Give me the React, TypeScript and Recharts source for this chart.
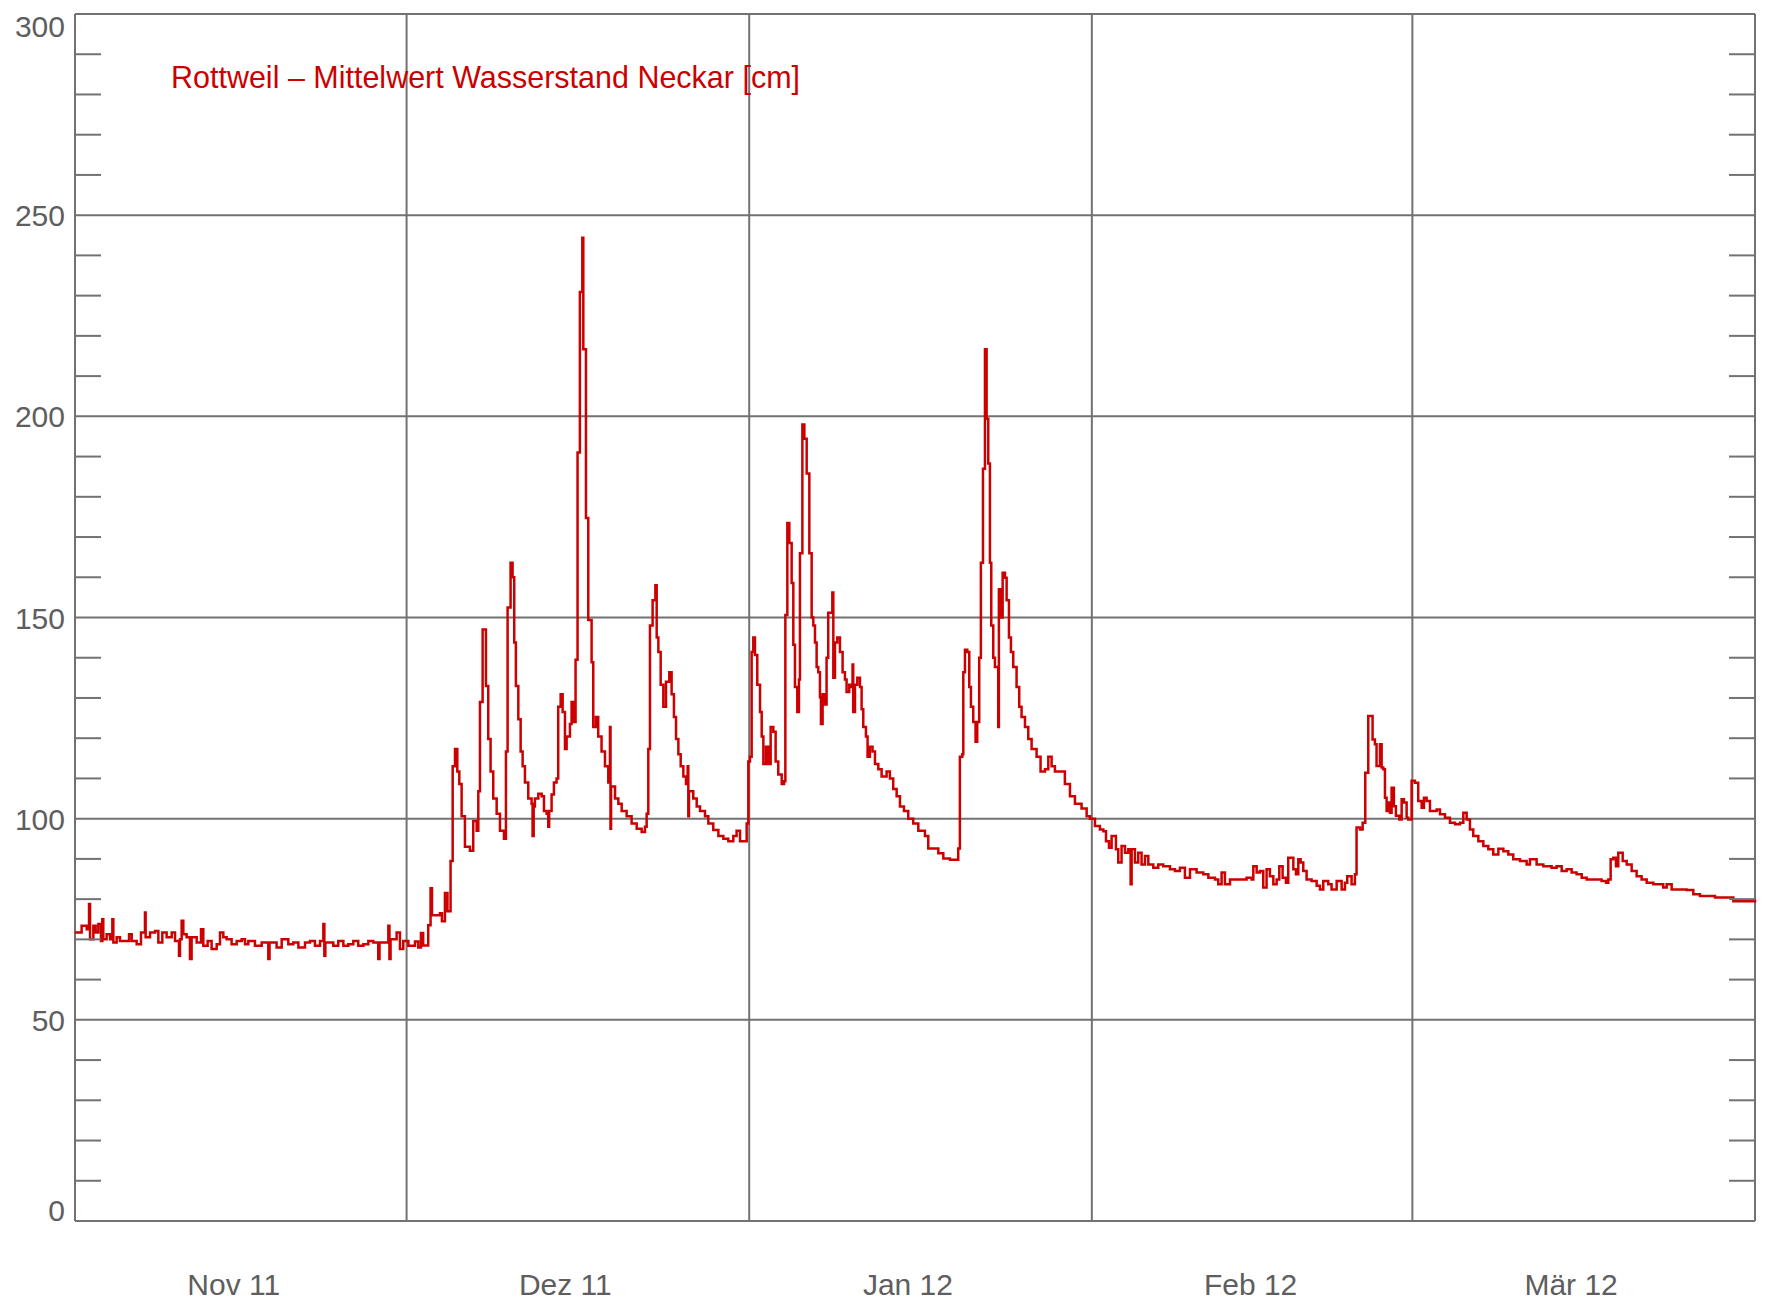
import { LineChart, Line, XAxis, YAxis, ReferenceLine } from "recharts";

// day = days since 1 Nov 2011, level = water level in cm
const NOV: [number, number][] = [
  [0, 71.7], [0.6, 73.4], [1.06, 72.5], [1.27, 78.8], [1.36, 70], [1.66, 73.4], [1.87, 71.7],
  [2.11, 73.8], [2.35, 69.6], [2.47, 75], [2.56, 70], [2.86, 71.3], [3.17, 70], [3.38, 75],
  [3.47, 69.2], [3.77, 70.5], [4.07, 69.6], [4.67, 69.6], [4.89, 71.3], [5.13, 69.6], [5.58, 68.8],
  [5.97, 71.7], [6.33, 76.7], [6.39, 70.5], [6.79, 71.7], [7.24, 72.1], [7.54, 69.2], [7.9, 71.7],
  [8.29, 70.5], [8.75, 71.7], [9.05, 69.6], [9.41, 65.9], [9.5, 70], [9.65, 74.6], [9.8, 71.3],
  [10.1, 70.5], [10.4, 65.1], [10.55, 70.5], [11.01, 69.2], [11.4, 72.5], [11.61, 68.4], [12.0, 69.6],
  [12.36, 67.6], [12.82, 68.8], [13.12, 71.7], [13.42, 70.5], [13.72, 70], [14.17, 68.8], [14.63, 69.6],
  [15.08, 70], [15.38, 68.8], [15.68, 69.6], [16.28, 68.4], [16.89, 69.2], [17.49, 65.1], [17.6, 69.2],
  [18.24, 68], [18.7, 70], [19.3, 68.8], [19.75, 69.2], [20.21, 68], [20.81, 69.2], [21.26, 69.6],
  [21.71, 68.4], [22.17, 69.6], [22.47, 73.8], [22.56, 65.9], [22.65, 69.2], [23.37, 68.4], [23.82, 69.6],
  [24.28, 68.4], [24.73, 68.8], [25.18, 69.6], [25.63, 68.4], [26.09, 68.8], [26.54, 69.6], [26.99, 69.2],
  [27.44, 65.1], [27.55, 69.2], [28.35, 73.4], [28.45, 65.1], [28.55, 70], [29.1, 71.7], [29.4, 67.6],
  [29.7, 69.6],
];

const DEZ: [number, number][] = [
  [30.16, 68.4], [30.76, 69.5], [31.06, 68], [31.3, 71.6], [31.5, 68.5], [31.96, 73.5], [32.17, 82.7],
  [32.3, 76], [33.02, 76.5], [33.2, 74.5], [33.47, 81.5], [33.7, 77], [33.98, 89.5], [34.17, 113],
  [34.38, 117.3], [34.59, 111.7], [34.77, 108.6], [34.98, 100.6], [35.28, 93], [35.73, 92], [36.03, 99.4],
  [36.34, 97], [36.49, 106.8], [36.64, 129], [36.88, 147], [37.18, 133], [37.39, 119.8], [37.6, 111.7],
  [37.84, 105], [38.15, 101.2], [38.45, 97], [38.81, 95], [38.99, 116.7], [39.14, 152.5], [39.41, 163.6],
  [39.59, 160], [39.74, 143.8], [39.89, 133], [40.11, 124.7], [40.32, 116.7], [40.5, 113], [40.71, 109],
  [41.01, 105], [41.31, 103.7], [41.4, 95.7], [41.5, 103], [41.61, 105], [41.92, 106.2], [42.22, 105.6],
  [42.43, 101.9], [42.67, 101.2], [42.82, 98], [42.9, 101.9], [43.12, 106], [43.33, 109], [43.57, 110],
  [43.72, 127.8], [43.94, 130.9], [44.12, 126.5], [44.33, 117.3], [44.48, 120.4], [44.78, 123.5],
  [44.93, 129], [45.14, 124], [45.29, 139.5], [45.47, 191], [45.68, 230.9], [45.9, 244.4], [45.99, 216.7],
  [46.23, 174.7], [46.44, 149.4], [46.74, 138.9], [46.89, 122.8], [47.13, 125.3], [47.34, 120.4],
  [47.64, 116.7], [47.95, 113], [48.25, 109], [48.4, 122.8], [48.45, 97.5], [48.5, 108], [48.86, 105],
  [49.16, 103.7], [49.46, 101.9], [49.91, 100.6], [50.36, 98.8], [50.82, 97.5], [51.27, 96.7], [51.57, 98],
  [51.72, 101.2], [51.87, 117.3], [52.02, 148], [52.26, 154.3], [52.51, 158], [52.63, 145], [52.78, 141.4],
  [52.99, 133.3], [53.23, 127.8], [53.47, 134], [53.77, 136.4], [53.98, 130.9], [54.19, 125.3],
  [54.38, 119.8], [54.59, 116], [54.8, 113], [55.04, 110.5], [55.28, 108.6], [55.43, 113], [55.49, 100.6],
  [55.55, 106.8], [55.94, 105], [56.25, 103], [56.55, 101.9], [57.0, 100.6], [57.3, 98.8], [57.75, 97.2],
  [58.21, 95.7], [58.66, 95], [59.11, 94.4], [59.56, 95.7], [59.86, 97], [60.17, 94.4], [60.77, 98.8],
];

const JAN: [number, number][] = [
  [60.92, 114.2], [61.07, 115.4], [61.22, 141.4], [61.37, 145], [61.52, 140.7], [61.73, 133.3],
  [61.98, 126.5], [62.13, 120.4], [62.28, 113.6], [62.52, 117.9], [62.73, 113.6], [62.94, 122.8],
  [63.18, 121.6], [63.39, 114.2], [63.63, 111], [63.94, 108.6], [64.15, 109.3], [64.27, 150.6],
  [64.45, 173.5], [64.63, 168.5], [64.84, 158.6], [64.99, 143.2], [65.14, 132.7], [65.35, 126.5],
  [65.5, 134.6], [65.59, 166], [65.81, 198], [65.99, 194.4], [66.2, 185.8], [66.44, 166], [66.65, 150],
  [66.8, 148], [66.95, 143.8], [67.1, 137.7], [67.25, 136.4], [67.4, 130.2], [67.49, 123.5], [67.64, 130.9],
  [67.85, 128.4], [68.0, 140], [68.15, 151.2], [68.36, 151.2], [68.52, 156.2], [68.61, 135], [68.76, 143.8],
  [68.97, 145], [69.21, 141.4], [69.45, 136.4], [69.66, 134.6], [69.81, 131.5], [70.05, 133.3],
  [70.26, 132.7], [70.35, 138.3], [70.41, 126.5], [70.57, 133.3], [70.78, 135], [71.02, 132.7],
  [71.17, 127.2], [71.32, 122.8], [71.56, 120.4], [71.71, 115.4], [71.92, 117.9], [72.16, 116.7],
  [72.38, 113.6], [72.68, 112.3], [72.98, 110.5], [73.43, 111.7], [73.73, 110], [74.03, 107.4],
  [74.34, 105.6], [74.64, 103], [75.0, 101.9], [75.39, 100], [75.84, 98.8], [76.3, 97], [76.9, 95.7],
  [77.2, 92.6], [77.65, 92.6], [78.11, 91.4], [78.56, 90.1], [79.16, 89.8], [79.76, 89.8], [79.91, 92.6],
  [80.06, 115.4], [80.28, 116], [80.37, 136.4], [80.52, 142], [80.73, 141.4], [80.91, 132.7],
  [81.06, 127.8], [81.27, 124], [81.48, 119.1], [81.63, 124], [81.81, 140], [81.96, 163.6], [82.15, 187],
  [82.33, 216.7], [82.48, 199.4], [82.63, 188.3], [82.78, 163.6], [82.9, 148], [83.08, 140], [83.23, 137.7],
  [83.38, 137.7], [83.53, 122.8], [83.59, 157], [83.77, 150], [83.93, 161.1], [84.14, 159.9],
  [84.29, 154.3], [84.5, 145], [84.68, 141.4], [84.89, 137.7], [85.19, 132.7], [85.43, 127.8],
  [85.64, 125.3], [85.95, 122.8], [86.25, 119.8], [86.55, 117.3], [87.0, 115.4], [87.36, 111.7],
  [87.76, 112.3], [88.06, 115.4], [88.36, 113], [88.66, 111.7], [89.11, 111.7], [89.56, 108.6],
  [90.02, 105.6], [90.47, 103.7], [91.07, 102.5], [91.53, 100.6],
];

const FEB: [number, number][] = [
  [91.83, 100], [92.28, 98.2], [92.73, 97.3], [93.04, 96.9], [93.28, 94.4], [93.55, 92.8], [93.79, 95.7],
  [94.0, 95.7], [94.18, 92.4], [94.39, 89.1], [94.69, 93.2], [95.0, 91.5], [95.3, 92.4], [95.51, 83.7],
  [95.6, 92.4], [95.9, 89.1], [96.2, 91.5], [96.5, 88.6], [96.81, 90.7], [97.11, 88.6], [97.56, 87.8],
  [98.01, 88.6], [98.46, 88.2], [99.07, 87.4], [99.52, 87], [99.97, 87.8], [100.42, 85.3], [100.88, 87.4],
  [101.48, 86.6], [102.08, 86.2], [102.54, 85.3], [103.14, 84.9], [103.44, 83.7], [103.74, 86.6],
  [104.04, 83.7], [104.5, 84.9], [105.4, 84.9], [106.0, 85.3], [106.46, 84.9], [106.61, 88.2],
  [106.91, 86.6], [107.21, 87], [107.51, 82.9], [107.81, 87.4], [108.11, 85.7], [108.42, 83.7],
  [108.72, 84.9], [108.96, 88.2], [109.26, 85.3], [109.56, 84.1], [109.77, 90.3], [110.01, 90.3],
  [110.23, 87.4], [110.47, 86.2], [110.68, 89.9], [110.89, 89.1], [111.13, 87], [111.43, 84.9],
  [111.88, 84.5], [112.34, 83.3], [112.64, 82.4], [112.94, 84.5], [113.39, 83.7], [113.69, 82.4],
  [114.15, 84.5], [114.6, 82.4], [114.9, 84.1], [115.11, 85.7], [115.5, 83.7], [115.8, 86.2],
  [115.95, 97.8], [116.26, 97.3], [116.5, 99], [116.74, 111.4], [117.01, 125.5], [117.25, 125.5],
  [117.4, 119.7], [117.61, 118.5], [117.76, 113.1], [118.07, 118.5], [118.22, 112.7], [118.37, 112.3],
  [118.52, 105.2], [118.67, 101.9], [118.82, 104], [118.97, 101.5], [119.12, 107.7], [119.33, 103.1],
  [119.51, 100.7], [119.82, 99.8], [120.03, 104.8], [120.24, 104], [120.48, 100.2], [120.63, 99.8],
  [120.93, 109.4],
];

const MAR: [number, number][] = [
  [121.23, 108.9], [121.53, 104.4], [121.84, 102.7], [122.05, 105.2], [122.29, 104.4], [122.59, 101.9],
  [122.9, 101.9], [123.2, 102.3], [123.5, 101.1], [123.95, 100.2], [124.4, 99], [124.86, 98.6],
  [125.31, 99], [125.61, 101.5], [125.91, 99.8], [126.21, 97.3], [126.51, 95.7], [126.97, 94.4],
  [127.42, 93.2], [127.87, 92.4], [128.32, 91.1], [128.78, 92.5], [129.23, 91.9], [129.68, 91.1],
  [130.13, 89.9], [130.74, 89.5], [131.34, 88.6], [131.64, 89.9], [131.94, 89.9], [132.24, 88.6],
  [132.85, 88.2], [133.6, 87.8], [134.05, 88.2], [134.51, 87], [134.96, 87.4], [135.41, 86.6],
  [135.86, 86.2], [136.32, 85.3], [136.77, 84.9], [138.12, 84.5], [138.52, 84.1], [138.73, 84.9],
  [138.94, 89.9], [139.18, 90.3], [139.42, 88.2], [139.63, 91.5], [139.84, 91.5], [140.03, 89.5],
  [140.39, 88.6], [140.84, 87], [141.29, 85.7], [141.74, 84.9], [142.2, 84.1], [142.8, 83.7],
  [143.7, 82.9], [144.01, 83.7], [144.46, 82.4], [145.81, 82.3], [146.42, 81.2], [147.02, 80.8],
  [148.38, 80.4], [150.04, 79.5], [151.54, 79.5], [152, 79.9],
];

const MONTH_STARTS = [30, 61, 92, 121];
const MONTH_LABELS = ["Nov 11", "Dez 11", "Jan 12", "Feb 12", "Mär 12"];
const LABEL_DAYS = [14, 44, 75, 106, 135];
const Y_GRID = [50, 100, 150, 200, 250];
const Y_TICKS = [
  0, 10, 20, 30, 40, 50, 60, 70, 80, 90, 100, 110, 120, 130, 140, 150,
  160, 170, 180, 190, 200, 210, 220, 230, 240, 250, 260, 270, 280, 290, 300,
];
const TITLE = "Rottweil – Mittelwert Wasserstand Neckar [cm]";

const data = [...NOV, ...DEZ, ...JAN, ...FEB, ...MAR].map(([day, level]) => ({ day, level }));

const W = 1759;
const H = 1303;
const PLOT_LEFT = 67;
const PLOT_RIGHT = 1747;
const GRID = "#727272";
const TEXT = "#5e5e5e";
const RED = "#cc0000";
const FONT = "'Liberation Sans', Arial, sans-serif";

function YTick(props: any) {
  const { y, payload } = props;
  const v = payload.value as number;
  if (v % 50 !== 0) {
    return (
      <g>
        <line x1={PLOT_LEFT} x2={PLOT_LEFT + 26} y1={y} y2={y} stroke={GRID} strokeWidth={2} />
        <line x1={PLOT_RIGHT - 26} x2={PLOT_RIGHT} y1={y} y2={y} stroke={GRID} strokeWidth={2} />
      </g>
    );
  }
  const dy = v === 300 ? 23 : v === 0 ? 0 : 11;
  return (
    <text x={PLOT_LEFT - 10} y={y + dy} textAnchor="end" fill={TEXT} fontSize={30} fontFamily={FONT}>
      {v}
    </text>
  );
}

function XTick(props: any) {
  const { x, y, index } = props;
  return (
    <text x={x + 4} y={y + 74} textAnchor="middle" fill={TEXT} fontSize={30} fontFamily={FONT}>
      {MONTH_LABELS[index]}
    </text>
  );
}

export default function App() {
  return (
    <div style={{ position: "relative", width: W, height: H }}>
      <LineChart width={W} height={H} data={data} margin={{ top: 6, right: 12, left: 7, bottom: 30 }}>
        <XAxis
          type="number"
          dataKey="day"
          domain={[0, 152]}
          ticks={LABEL_DAYS}
          interval={0}
          height={60}
          axisLine={false}
          tickLine={false}
          tickSize={0}
          tickMargin={0}
          tick={<XTick />}
        />
        <YAxis
          type="number"
          domain={[0, 300]}
          ticks={Y_TICKS}
          interval={0}
          width={60}
          axisLine={false}
          tickLine={false}
          tickSize={0}
          tickMargin={10}
          tick={<YTick />}
        />
        {Y_GRID.map((v) => (
          <ReferenceLine key={"h" + v} y={v} stroke={GRID} strokeWidth={2} />
        ))}
        {MONTH_STARTS.map((d) => (
          <ReferenceLine key={"v" + d} x={d} stroke={GRID} strokeWidth={2} />
        ))}
        <ReferenceLine y={0} stroke={GRID} strokeWidth={2} />
        <ReferenceLine y={300} stroke={GRID} strokeWidth={2} />
        <ReferenceLine x={0} stroke={GRID} strokeWidth={2} />
        <ReferenceLine x={152} stroke={GRID} strokeWidth={2} />
        <Line
          dataKey="level"
          type="stepAfter"
          stroke={RED}
          strokeWidth={2.5}
          dot={false}
          activeDot={false}
          isAnimationActive={false}
        />
      </LineChart>
      <svg width={W} height={H} style={{ position: "absolute", left: 0, top: 0, pointerEvents: "none" }}>
        <text
          x={163}
          y={80}
          fill={RED}
          fontSize={32}
          fontFamily={FONT}
          textLength={629}
          lengthAdjust="spacingAndGlyphs"
        >
          {TITLE}
        </text>
      </svg>
    </div>
  );
}
